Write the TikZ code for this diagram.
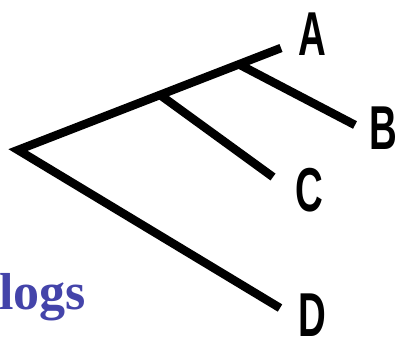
\documentclass[tikz,border=0pt]{standalone}
\usepackage{fontspec}
\setmainfont{Liberation Serif}
\newfontfamily\leaffont{Liberation Sans}
\usetikzlibrary{calc}
\definecolor{logblue}{RGB}{68,68,170}

\tikzset{
  branch/.style={line width=8.5pt,line cap=butt,line join=miter},
  leaf/.style={inner sep=0pt,font=\leaffont\bfseries\fontsize{62}{62}\selectfont,xscale=0.62,transform shape}
}

\begin{document}
\begin{tikzpicture}[x=1pt,y=-1pt]
    \useasboundingbox (0,0) rectangle (399,338);
    \coordinate (root) at (18,150);
    \coordinate (tipA) at (281,48);
    \coordinate (tipB) at (355,125);
    \coordinate (tipC) at (273,177);
    \coordinate (tipD) at (280,308);
    \coordinate (jC) at ($(root)!0.54!(tipA)$);
    \coordinate (jB) at ($(root)!0.84!(tipA)$);
    \draw[branch] (tipA) -- (root) -- (tipD);
    \draw[branch] (jC) -- (tipC);
    \draw[branch] (jB) -- (tipB);
    \node[leaf] (labA) at (312,34) {A};
    \node[leaf] (labB) at (383,128) {B};
    \node[leaf] (labC) at (309,190) {C};
    \node[leaf] (labD) at (312,315) {D};
    \node[anchor=base west,inner sep=0pt,text=logblue,font=\bfseries\fontsize{52}{52}\selectfont] (title) at (-1,309) {logs};
\end{tikzpicture}
\end{document}
